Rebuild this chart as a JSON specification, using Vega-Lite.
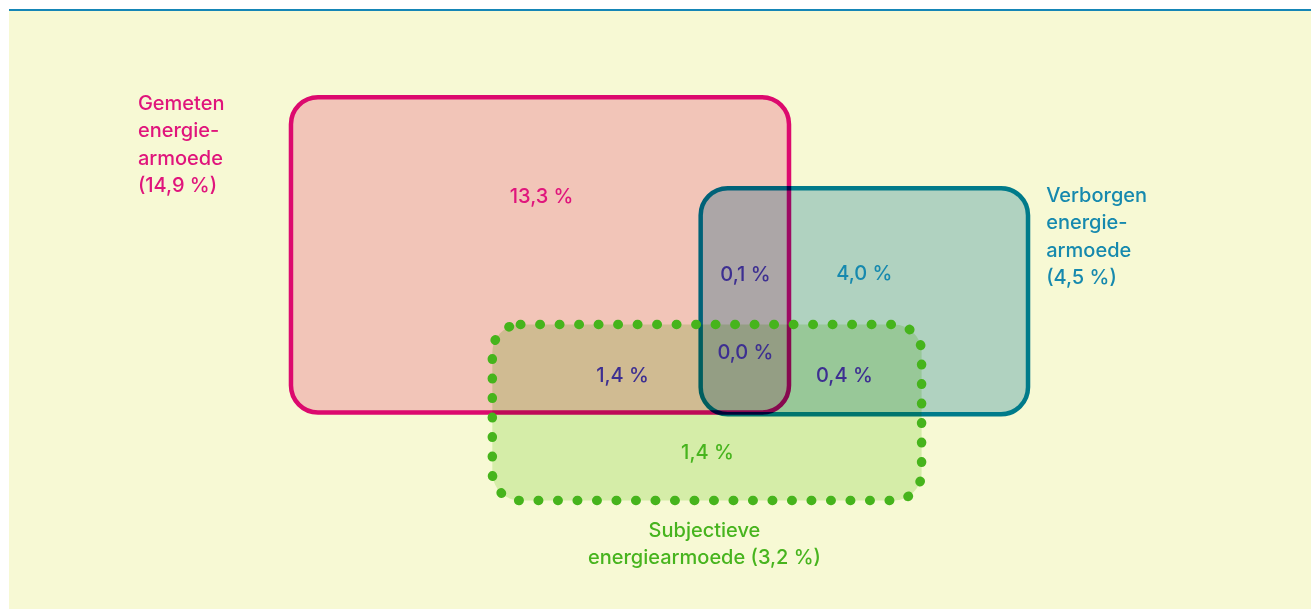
{
  "$schema": "https://vega.github.io/schema/vega-lite/v6.json",
  "width": 1312,
  "height": 609,
  "autosize": {"type": "fit", "contains": "padding"},
  "padding": 0,
  "background": "#ffffff",
  "config": {"view": {"stroke": null}, "axis": {"disable": true}},
  "datasets": {
    "panel": [{"x": 9, "x2": 1312, "y": 11, "y2": 609}],
    "topline": [{"x": 9, "x2": 1312, "y": 10}],
    "sets": [
      {"set": "Gemeten", "x": 291.2, "x2": 789.6, "y": 97.2, "y2": 412.5},
      {"set": "Verborgen", "x": 701.2, "x2": 1028.8, "y": 188.2, "y2": 414.3},
      {"set": "Subjectief", "x": 492.7, "x2": 922.3, "y": 324.5, "y2": 500.5}
    ],
    "labels": [
      {"group": "Gemeten", "x": 138, "y": 104, "text": "Gemeten\nenergie-\narmoede\n(14,9 %)", "align": "left"},
      {"group": "Verborgen", "x": 1047, "y": 196, "text": "Verborgen\nenergie-\narmoede\n(4,5 %)", "align": "left"},
      {"group": "Subjectief", "x": 705, "y": 531, "text": "Subjectieve\nenergiearmoede (3,2 %)", "align": "center"},
      {"group": "Gemeten", "x": 542, "y": 197, "text": "13,3 %", "align": "center"},
      {"group": "Overlap", "x": 746, "y": 275, "text": "0,1 %", "align": "center"},
      {"group": "Verborgen", "x": 865, "y": 274, "text": "4,0 %", "align": "center"},
      {"group": "Overlap", "x": 746, "y": 353, "text": "0,0 %", "align": "center"},
      {"group": "Overlap", "x": 623, "y": 376, "text": "1,4 %", "align": "center"},
      {"group": "Overlap", "x": 845, "y": 376, "text": "0,4 %", "align": "center"},
      {"group": "Subjectief", "x": 708, "y": 453, "text": "1,4 %", "align": "center"}
    ]
  },
  "layer": [
    {
      "data": {"name": "panel"},
      "mark": {"type": "rect", "color": "#f7f9d4"},
      "encoding": {
        "x": {"field": "x", "type": "quantitative", "scale": {"domain": [0, 1312]}, "axis": null},
        "x2": {"field": "x2"},
        "y": {"field": "y", "type": "quantitative", "scale": {"domain": [0, 609], "reverse": true}, "axis": null},
        "y2": {"field": "y2"}
      }
    },
    {
      "data": {"name": "topline"},
      "mark": {"type": "rule", "color": "#1586b6", "strokeWidth": 2},
      "encoding": {
        "x": {"field": "x", "type": "quantitative", "scale": {"domain": [0, 1312]}, "axis": null},
        "x2": {"field": "x2"},
        "y": {"field": "y", "type": "quantitative", "scale": {"domain": [0, 609], "reverse": true}, "axis": null}
      }
    },
    {
      "data": {"name": "sets"},
      "transform": [{"filter": "datum.set === 'Verborgen'"}],
      "mark": {"type": "rect", "fill": "#b6d7e7", "stroke": "#007ea6", "strokeWidth": 4.5, "cornerRadius": 27, "blend": "multiply"},
      "encoding": {
        "x": {"field": "x", "type": "quantitative", "scale": {"domain": [0, 1312]}, "axis": null},
        "x2": {"field": "x2"},
        "y": {"field": "y", "type": "quantitative", "scale": {"domain": [0, 609], "reverse": true}, "axis": null},
        "y2": {"field": "y2"}
      }
    },
    {
      "data": {"name": "sets"},
      "transform": [{"filter": "datum.set === 'Gemeten'"}],
      "mark": {"type": "rect", "fill": "#facade", "stroke": "#e30a84", "strokeWidth": 4.5, "cornerRadius": 27, "blend": "multiply"},
      "encoding": {
        "x": {"field": "x", "type": "quantitative", "scale": {"domain": [0, 1312]}, "axis": null},
        "x2": {"field": "x2"},
        "y": {"field": "y", "type": "quantitative", "scale": {"domain": [0, 609], "reverse": true}, "axis": null},
        "y2": {"field": "y2"}
      }
    },
    {
      "data": {"name": "sets"},
      "transform": [{"filter": "datum.set === 'Subjectief'"}],
      "mark": {"type": "rect", "fill": "#dcf3ca", "cornerRadius": 28, "blend": "multiply"},
      "encoding": {
        "x": {"field": "x", "type": "quantitative", "scale": {"domain": [0, 1312]}, "axis": null},
        "x2": {"field": "x2"},
        "y": {"field": "y", "type": "quantitative", "scale": {"domain": [0, 609], "reverse": true}, "axis": null},
        "y2": {"field": "y2"}
      }
    },
    {
      "data": {"name": "sets"},
      "transform": [{"filter": "datum.set === 'Subjectief'"}],
      "mark": {"type": "rect", "fill": null, "fillOpacity": 0, "stroke": "#46b41c", "strokeWidth": 9.5, "strokeDash": [0.5, 19], "strokeCap": "round", "cornerRadius": 28},
      "encoding": {
        "x": {"field": "x", "type": "quantitative", "scale": {"domain": [0, 1312]}, "axis": null},
        "x2": {"field": "x2"},
        "y": {"field": "y", "type": "quantitative", "scale": {"domain": [0, 609], "reverse": true}, "axis": null},
        "y2": {"field": "y2"}
      }
    },
    {
      "data": {"name": "labels"},
      "transform": [{"filter": "datum.align === 'left'"}],
      "mark": {"type": "text", "align": "left", "font": "Inter", "fontSize": 20, "fontWeight": 500, "lineBreak": "\n", "lineHeight": 27.3, "baseline": "middle"},
      "encoding": {
        "x": {"field": "x", "type": "quantitative", "scale": {"domain": [0, 1312]}, "axis": null},
        "y": {"field": "y", "type": "quantitative", "scale": {"domain": [0, 609], "reverse": true}, "axis": null},
        "text": {"field": "text"},
        "color": {
          "field": "group",
          "type": "nominal",
          "legend": null,
          "scale": {"domain": ["Gemeten", "Verborgen", "Subjectief", "Overlap"], "range": ["#e0157c", "#1689ae", "#47b41e", "#3d2f91"]}
        }
      }
    },
    {
      "data": {"name": "labels"},
      "transform": [{"filter": "datum.align === 'center'"}],
      "mark": {"type": "text", "align": "center", "font": "Inter", "fontSize": 20, "fontWeight": 500, "lineBreak": "\n", "lineHeight": 27.3, "baseline": "middle"},
      "encoding": {
        "x": {"field": "x", "type": "quantitative", "scale": {"domain": [0, 1312]}, "axis": null},
        "y": {"field": "y", "type": "quantitative", "scale": {"domain": [0, 609], "reverse": true}, "axis": null},
        "text": {"field": "text"},
        "color": {
          "field": "group",
          "type": "nominal",
          "legend": null,
          "scale": {"domain": ["Gemeten", "Verborgen", "Subjectief", "Overlap"], "range": ["#e0157c", "#1689ae", "#47b41e", "#3d2f91"]}
        }
      }
    }
  ]
}
